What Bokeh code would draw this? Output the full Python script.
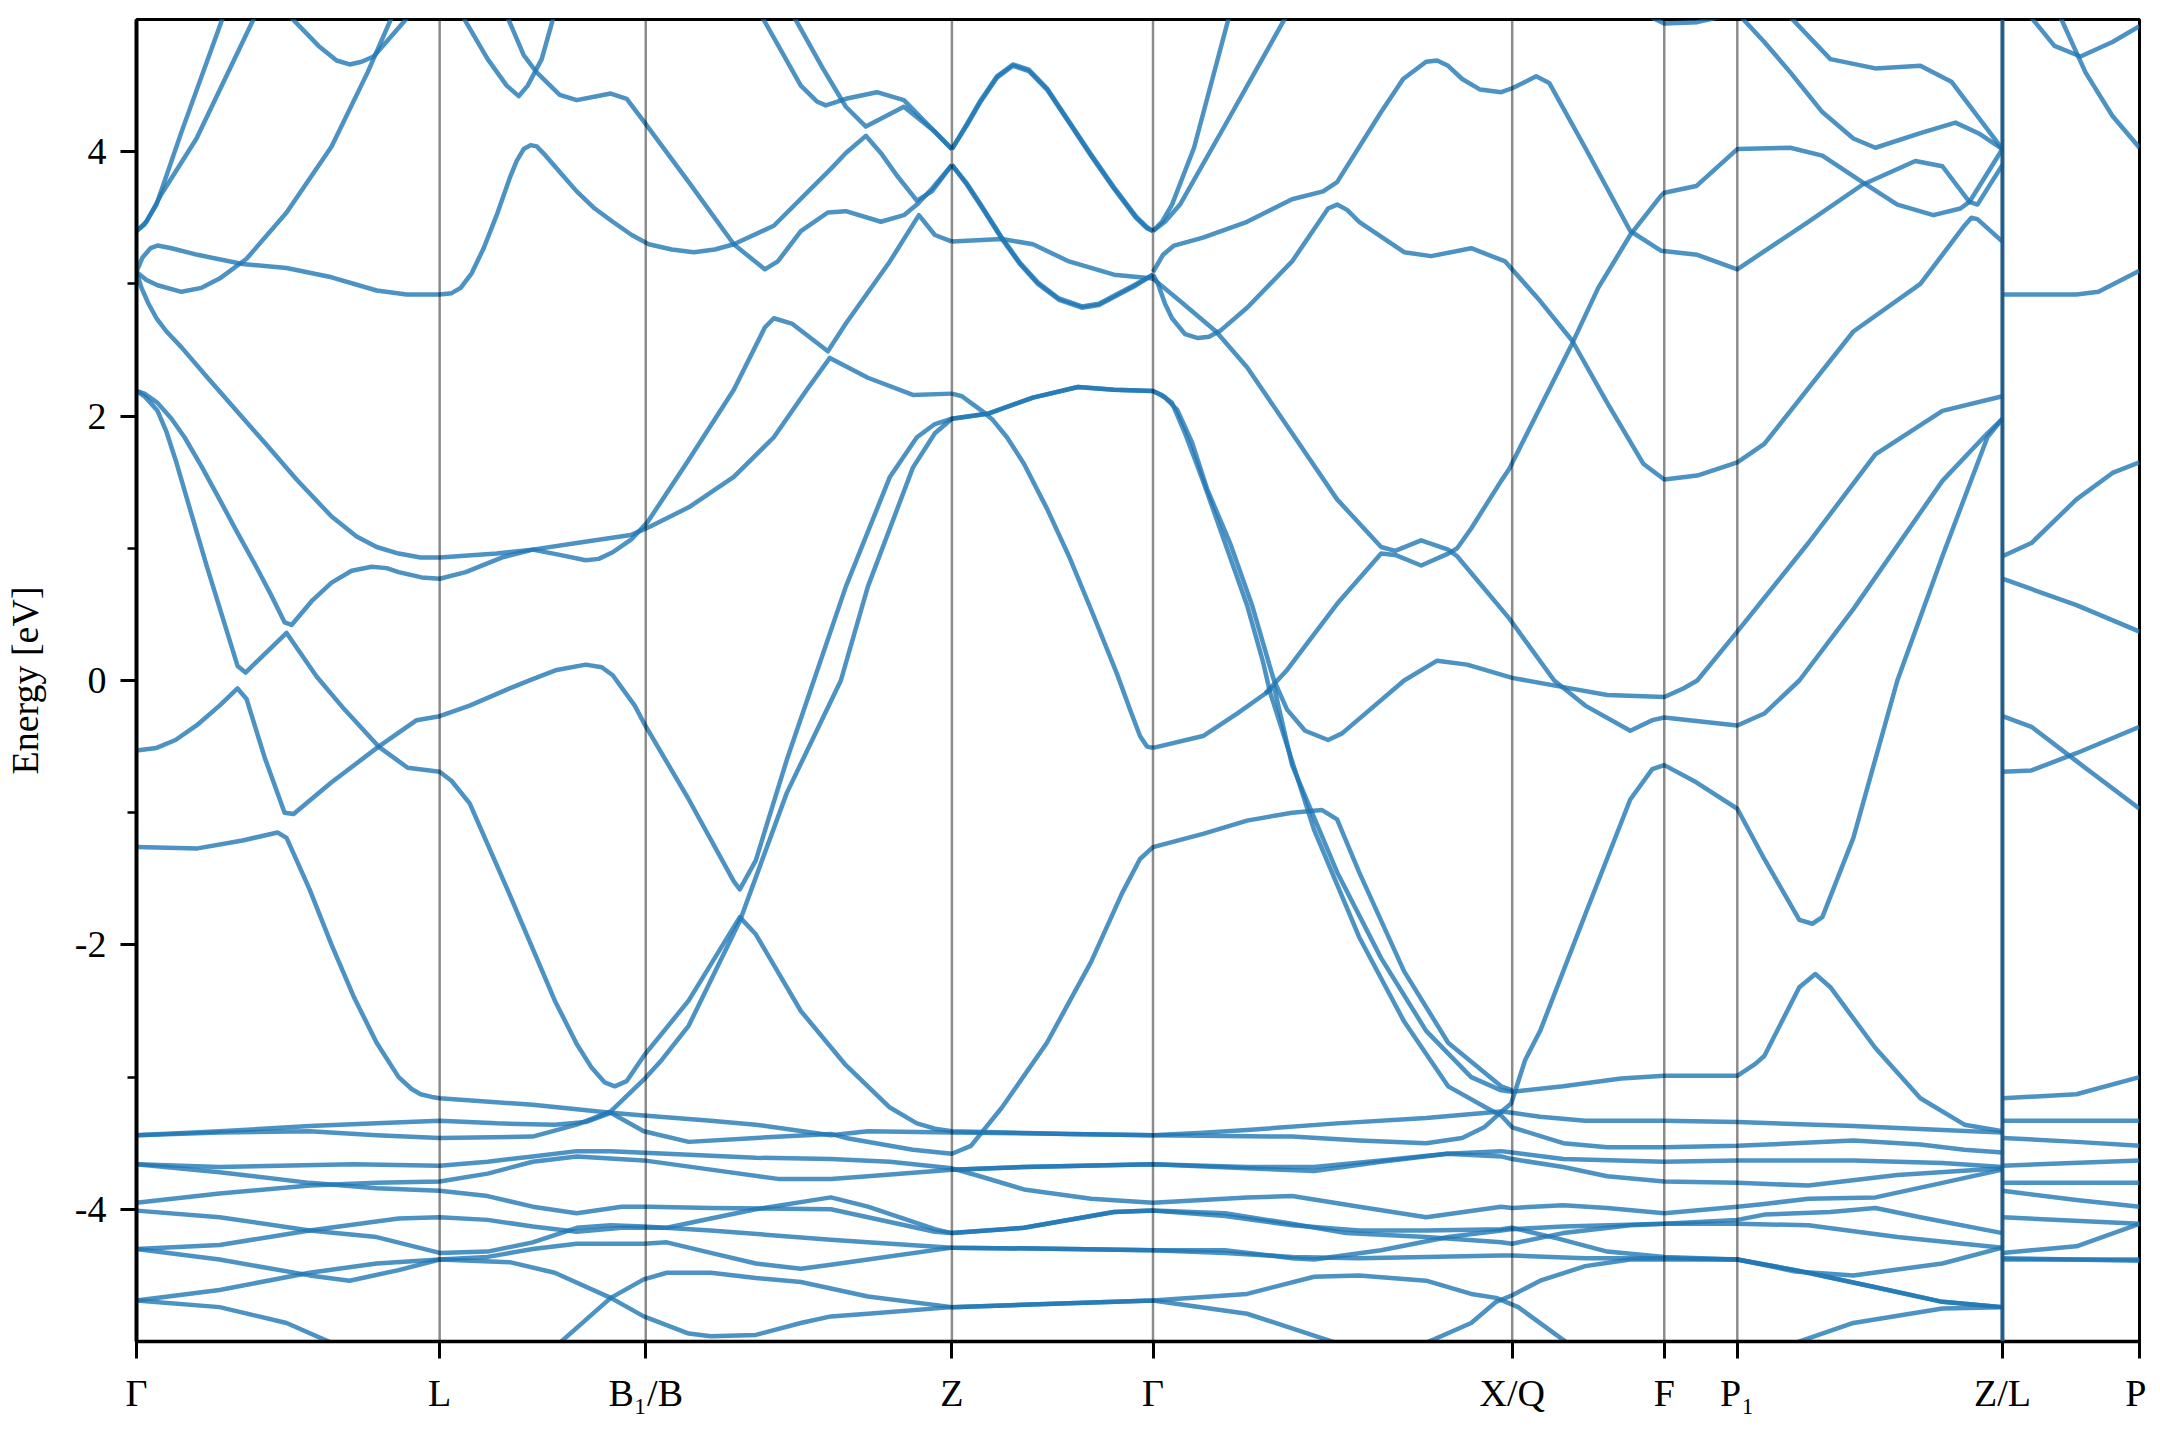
from bokeh.plotting import figure
from bokeh.models import Range1d, FixedTicker, Span
from bokeh.embed import file_html
from bokeh.resources import INLINE

# ---- k-path (high-symmetry points) ----
kpt_pos = [0.0, 3.03, 5.09, 8.15, 10.16, 13.75, 15.27, 16.00, 18.65, 20.02]
kpt_lab = ["Γ", "L", "B₁/B", "Z", "Γ", "X/Q", "F", "P₁", "Z/L", "P"]

# ---- bands: [k, E(eV)] ----
band_01 = [[0, 3.40], [0.08, 3.45], [0.20, 3.60], [0.45, 4.15], [0.88, 5.05]]
band_02 = [[0, 3.40], [0.10, 3.47], [0.25, 3.68], [0.60, 4.10], [1.20, 5.05]]
band_03 = [[1.50, 5.05], [1.82, 4.80], [2.00, 4.69], [2.13, 4.66], [2.25, 4.68], [2.37, 4.72], [2.75, 5.05]]
band_04 = [[0, 3.09], [0.10, 3.03], [0.21, 2.99], [0.45, 2.94], [0.65, 2.97], [0.83, 3.04], [1.10, 3.19], [1.50, 3.54],
           [1.95, 4.04], [2.31, 4.60], [2.57, 5.05]]
band_05 = [[0, 3.09], [0.06, 3.20], [0.14, 3.27], [0.21, 3.29], [0.35, 3.27], [0.61, 3.22], [1.06, 3.15], [1.50, 3.12],
           [1.95, 3.05], [2.40, 2.95], [2.70, 2.92], [3.03, 2.92], [3.15, 2.93], [3.24, 2.97], [3.35, 3.08], [3.47, 3.27],
           [3.60, 3.52], [3.73, 3.80], [3.80, 3.93], [3.87, 4.02], [3.94, 4.05], [4.00, 4.04], [4.09, 3.97], [4.25, 3.83],
           [4.40, 3.70], [4.58, 3.57], [4.76, 3.47], [4.95, 3.37], [5.12, 3.30], [5.35, 3.26], [5.57, 3.24], [5.78, 3.26],
           [5.97, 3.30], [6.37, 3.44], [6.94, 3.87], [7.09, 3.99], [7.29, 4.12], [7.45, 3.98], [7.60, 3.82], [7.80, 3.63],
           [7.95, 3.70], [8.15, 3.90]]
band_06 = [[0, 3.09], [0.05, 2.97], [0.12, 2.85], [0.20, 2.74], [0.30, 2.64], [0.45, 2.52], [0.70, 2.30], [1.00, 2.04],
           [1.28, 1.80], [1.60, 1.52], [1.95, 1.24], [2.20, 1.09], [2.40, 1.01], [2.62, 0.96], [2.84, 0.93], [3.03, 0.93],
           [3.60, 0.96], [3.96, 0.99], [4.40, 1.04], [4.94, 1.10], [5.12, 1.16], [5.52, 1.31], [5.97, 1.54], [6.37, 1.84],
           [6.70, 2.20], [6.93, 2.44], [7.31, 2.29], [7.76, 2.16], [8.15, 2.17]]
band_07 = [[0, 2.19], [0.08, 2.17], [0.21, 2.10], [0.35, 1.98], [0.48, 1.84], [0.65, 1.62], [0.83, 1.37], [1.00, 1.13],
           [1.19, 0.87], [1.35, 0.64], [1.48, 0.44], [1.55, 0.42], [1.75, 0.60], [1.95, 0.74], [2.15, 0.83], [2.35, 0.86],
           [2.50, 0.85], [2.62, 0.82], [2.85, 0.78], [3.03, 0.77], [3.29, 0.82], [3.65, 0.93], [3.96, 0.99], [4.23, 0.95],
           [4.49, 0.91], [4.62, 0.92], [4.76, 0.97], [4.95, 1.07], [5.11, 1.20], [5.52, 1.67], [5.97, 2.20], [6.28, 2.67],
           [6.37, 2.74], [6.55, 2.70], [6.91, 2.49], [7.09, 2.70], [7.53, 3.17], [7.82, 3.52], [7.98, 3.37], [8.15, 3.32]]
band_08 = [[0, 2.19], [0.08, 2.15], [0.21, 2.04], [0.30, 1.88], [0.39, 1.67], [0.70, 0.87], [1.01, 0.11], [1.09, 0.06],
           [1.50, 0.36], [1.80, 0.03], [2.08, -0.22], [2.42, -0.50], [2.71, -0.66], [3.03, -0.69], [3.15, -0.76],
           [3.33, -0.93], [3.73, -1.62], [4.18, -2.42], [4.40, -2.75], [4.55, -2.93], [4.68, -3.04], [4.78, -3.07],
           [4.90, -3.03], [5.07, -2.84], [5.52, -2.42], [6.03, -1.79], [6.19, -1.92], [6.64, -2.50], [7.09, -2.91],
           [7.53, -3.23], [7.80, -3.35], [7.98, -3.39], [8.15, -3.41], [9.32, -3.43], [10.16, -3.44], [10.66, -3.42],
           [11.10, -3.40], [12.00, -3.35], [12.89, -3.31], [13.64, -3.26], [13.75, -3.27], [14.03, -3.30], [14.48, -3.33],
           [15.27, -3.33], [16.00, -3.34], [17.16, -3.37], [18.05, -3.40], [18.65, -3.42]]
band_09 = [[0, -0.53], [0.20, -0.51], [0.39, -0.45], [0.60, -0.34], [0.83, -0.19], [1.01, -0.06], [1.10, -0.14],
           [1.28, -0.58], [1.48, -1.00], [1.57, -1.01], [1.95, -0.77], [2.42, -0.50], [2.80, -0.30], [3.03, -0.27],
           [3.33, -0.19], [3.73, -0.06], [3.96, 0.01], [4.20, 0.08], [4.49, 0.12], [4.65, 0.10], [4.76, 0.04], [4.98, -0.19],
           [5.07, -0.32], [5.52, -0.90], [5.97, -1.52], [6.03, -1.58], [6.19, -1.36], [6.50, -0.60], [6.77, 0.00],
           [7.09, 0.71], [7.53, 1.54], [7.80, 1.84], [7.98, 1.94], [8.15, 1.98], [8.52, 2.02], [8.96, 2.14], [9.41, 2.22],
           [9.77, 2.20], [10.16, 2.19], [10.25, 2.16], [10.35, 2.10], [10.48, 1.87], [10.66, 1.51], [10.88, 1.04],
           [11.10, 0.57], [11.26, 0.14], [11.33, -0.09], [11.77, -1.13], [12.22, -1.94], [12.67, -2.58], [13.11, -3.07],
           [13.51, -3.24], [13.64, -3.29], [13.75, -3.38], [14.26, -3.50], [14.70, -3.53], [15.27, -3.53], [16.00, -3.52],
           [17.16, -3.48], [17.83, -3.51], [18.27, -3.55], [18.65, -3.57]]
band_10 = [[0, -1.26], [0.61, -1.27], [1.06, -1.21], [1.41, -1.15], [1.50, -1.19], [1.73, -1.58], [1.95, -2.00],
           [2.17, -2.39], [2.40, -2.74], [2.62, -3.00], [2.75, -3.09], [2.84, -3.13], [2.95, -3.15], [3.03, -3.16],
           [3.96, -3.21], [4.74, -3.27], [5.07, -3.29], [5.74, -3.33], [6.19, -3.36], [6.94, -3.44], [7.31, -3.41],
           [8.15, -3.42], [9.32, -3.43], [10.16, -3.44], [11.55, -3.45], [12.22, -3.48], [12.89, -3.50], [13.25, -3.46],
           [13.47, -3.38], [13.63, -3.27], [13.74, -3.20], [13.88, -2.87], [14.03, -2.65], [14.48, -1.77], [14.93, -0.90],
           [15.15, -0.67], [15.27, -0.64], [15.59, -0.77], [16.00, -0.97], [16.27, -1.35], [16.62, -1.81], [16.75, -1.84],
           [16.85, -1.79], [17.16, -1.19], [17.60, 0.00], [18.05, 0.94], [18.50, 1.84], [18.65, 1.98]]
band_11 = [[0, -3.44], [0.83, -3.41], [1.73, -3.37], [2.40, -3.35], [3.03, -3.33], [3.60, -3.35], [4.18, -3.36],
           [4.49, -3.34], [4.74, -3.27], [5.07, -3.41], [5.52, -3.49], [6.19, -3.46], [6.94, -3.43], [7.09, -3.46],
           [7.76, -3.55], [8.15, -3.58], [8.34, -3.52], [8.65, -3.23], [9.10, -2.74], [9.54, -2.13], [9.85, -1.61],
           [10.03, -1.35], [10.16, -1.26], [10.66, -1.16], [11.10, -1.06], [11.55, -1.00], [11.85, -0.98], [12.00, -1.05],
           [12.22, -1.45], [12.67, -2.20], [13.11, -2.74], [13.64, -3.07], [13.75, -3.10]]
band_12 = [[0, -3.44], [0.83, -3.42], [1.73, -3.41], [2.40, -3.44], [3.03, -3.46], [3.96, -3.45], [4.40, -3.36],
           [4.74, -3.26], [5.07, -3.02], [5.25, -2.87], [5.52, -2.61], [6.03, -1.82], [6.50, -0.85], [7.04, 0.00],
           [7.31, 0.71], [7.76, 1.61], [7.98, 1.87], [8.15, 1.98], [8.52, 2.02], [8.96, 2.14], [9.41, 2.22], [9.77, 2.20],
           [10.16, 2.19], [10.28, 2.14], [10.40, 2.05], [10.55, 1.80], [10.70, 1.45], [10.93, 1.04], [11.15, 0.57],
           [11.33, 0.10], [11.37, 0.00], [11.50, -0.22], [11.68, -0.38], [11.91, -0.45], [12.05, -0.40], [12.22, -0.29],
           [12.67, 0.00], [13.00, 0.15], [13.30, 0.12], [13.75, 0.02], [14.26, -0.05], [14.70, -0.11], [15.27, -0.125],
           [15.46, -0.06], [15.60, 0.00], [16.00, 0.37], [16.71, 1.04], [17.38, 1.71], [18.05, 2.04], [18.65, 2.15]]
band_13 = [[0, -3.66], [0.83, -3.68], [2.17, -3.66], [3.03, -3.67], [3.51, -3.64], [3.96, -3.60], [4.40, -3.56],
           [4.74, -3.56], [5.30, -3.58], [6.19, -3.61], [6.94, -3.62], [7.53, -3.64], [8.15, -3.69], [8.43, -3.75],
           [8.87, -3.85], [9.54, -3.92], [10.16, -3.95], [11.10, -3.91], [11.55, -3.90], [12.22, -3.98], [12.89, -4.06],
           [13.64, -3.98], [13.75, -3.99], [14.26, -3.97], [14.70, -3.99], [15.27, -4.03], [16.00, -3.98], [16.27, -3.96],
           [16.71, -3.92], [17.38, -3.91], [18.05, -3.80], [18.65, -3.70]]
band_14 = [[0, -3.66], [0.83, -3.72], [1.73, -3.80], [2.40, -3.84], [3.03, -3.86], [3.51, -3.90], [3.96, -3.98],
           [4.40, -4.03], [4.85, -3.98], [5.12, -3.98], [5.74, -3.99], [6.94, -4.00], [7.31, -4.06], [7.98, -4.17],
           [8.15, -4.18], [8.87, -4.14], [9.77, -4.02], [10.16, -4.01], [10.88, -4.03], [11.55, -4.11], [12.09, -4.18],
           [12.89, -4.21], [13.64, -4.25], [13.75, -4.26], [14.26, -4.18], [14.93, -4.12], [15.27, -4.11], [16.00, -4.11],
           [16.71, -4.12], [17.60, -4.21], [18.65, -4.29]]
band_15 = [[0, -3.95], [0.83, -3.88], [1.73, -3.82], [2.40, -3.80], [3.03, -3.79], [3.51, -3.73], [3.96, -3.64],
           [4.40, -3.60], [5.07, -3.63], [5.74, -3.70], [6.41, -3.77], [6.94, -3.77], [7.31, -3.75], [8.15, -3.70],
           [8.87, -3.68], [10.16, -3.66], [11.10, -3.69], [11.77, -3.71], [12.44, -3.64], [13.10, -3.58], [13.64, -3.60],
           [13.75, -3.62], [14.26, -3.68], [14.70, -3.75], [15.27, -3.79], [16.00, -3.80], [16.71, -3.82], [17.60, -3.74],
           [18.65, -3.69]]
band_16 = [[0, -4.01], [0.83, -4.06], [1.73, -4.16], [2.40, -4.21], [3.03, -4.33], [3.51, -4.32], [3.96, -4.25],
           [4.40, -4.14], [4.74, -4.12], [5.07, -4.13], [5.74, -4.16], [6.94, -4.23], [7.31, -4.25], [8.15, -4.29],
           [9.32, -4.30], [10.16, -4.31], [10.88, -4.31], [11.55, -4.37], [11.77, -4.38], [12.44, -4.31], [13.11, -4.21],
           [13.64, -4.16], [13.75, -4.15], [14.26, -4.13], [15.27, -4.11], [16.00, -4.08], [16.27, -4.04], [16.93, -4.02],
           [17.38, -3.99], [17.83, -4.06], [18.65, -4.18]]
band_17 = [[0, -4.30], [0.83, -4.27], [1.73, -4.16], [2.62, -4.07], [3.03, -4.06], [3.51, -4.08], [3.96, -4.13],
           [4.40, -4.17], [4.85, -4.14], [5.30, -4.14], [5.74, -4.07], [6.19, -4.00], [6.94, -3.91], [7.31, -3.98],
           [7.98, -4.15], [8.15, -4.18], [8.87, -4.14], [9.77, -4.02], [10.16, -4.01], [10.88, -4.05], [11.55, -4.12],
           [12.22, -4.16], [12.89, -4.16], [13.64, -4.15], [13.75, -4.14], [14.20, -4.22], [14.70, -4.32], [15.27, -4.36],
           [16.00, -4.38], [16.58, -4.47], [17.16, -4.50], [18.05, -4.41], [18.65, -4.29]]
band_18 = [[0, -4.30], [0.83, -4.38], [1.73, -4.50], [2.13, -4.54], [2.62, -4.46], [3.03, -4.38], [3.51, -4.36],
           [3.96, -4.30], [4.40, -4.26], [5.07, -4.26], [5.30, -4.25], [5.74, -4.33], [6.19, -4.41], [6.64, -4.45],
           [6.94, -4.42], [7.31, -4.38], [8.15, -4.29], [9.32, -4.30], [10.16, -4.31], [10.88, -4.33], [11.55, -4.36],
           [12.22, -4.37], [12.89, -4.36], [13.64, -4.35], [13.75, -4.35], [14.48, -4.37], [15.27, -4.37], [16.00, -4.38],
           [16.58, -4.46], [17.38, -4.59], [18.05, -4.70], [18.65, -4.74]]
band_19 = [[0, -4.69], [0.83, -4.61], [1.73, -4.48], [2.40, -4.41], [3.03, -4.38], [3.73, -4.40], [4.18, -4.48],
           [4.74, -4.67], [5.07, -4.81], [5.52, -4.94], [5.74, -4.96], [6.19, -4.95], [6.64, -4.86], [6.94, -4.81],
           [7.31, -4.79], [8.15, -4.74], [9.32, -4.71], [10.16, -4.69], [11.10, -4.64], [11.77, -4.51], [12.22, -4.50],
           [12.89, -4.54], [13.34, -4.64], [13.59, -4.67], [13.81, -4.74], [14.30, -5.01], [14.50, -5.10]]
band_20 = [[0, -4.69], [0.83, -4.74], [1.50, -4.86], [1.95, -5.01], [2.20, -5.10]]
band_21 = [[4.00, -5.10], [4.23, -5.01], [4.74, -4.67], [5.07, -4.53], [5.30, -4.48], [5.74, -4.48], [6.19, -4.52],
           [6.64, -4.55], [7.31, -4.66], [8.15, -4.74], [9.32, -4.71], [10.16, -4.69], [11.10, -4.79], [11.99, -5.01],
           [12.20, -5.10]]
band_22 = [[12.70, -5.10], [12.89, -5.01], [13.34, -4.86], [13.59, -4.70], [13.75, -4.65], [14.03, -4.54], [14.48, -4.43],
           [14.93, -4.38], [15.27, -4.38], [16.00, -4.38], [16.58, -4.46], [17.38, -4.59], [18.05, -4.70], [18.65, -4.74]]
band_23 = [[8.15, -3.70], [8.87, -3.68], [10.16, -3.66], [11.10, -3.68], [11.77, -3.68], [12.44, -3.63], [13.10, -3.58],
           [13.64, -3.56], [13.75, -3.57], [14.26, -3.62], [15.27, -3.64], [16.00, -3.63], [17.16, -3.63], [18.05, -3.65],
           [18.65, -3.68]]
band_24 = [[16.40, -5.10], [16.58, -5.01], [17.16, -4.86], [18.05, -4.75], [18.65, -4.74]]
band_25 = [[10.16, 3.40], [10.25, 3.47], [10.35, 3.60], [10.57, 4.03], [10.93, 5.05]]
band_26 = [[10.16, 3.40], [10.28, 3.47], [10.43, 3.60], [10.88, 4.20], [11.51, 5.05]]
band_27 = [[10.16, 3.09], [10.26, 3.22], [10.37, 3.29], [10.66, 3.35], [11.10, 3.47], [11.55, 3.64], [11.86, 3.70],
           [12.00, 3.77], [12.44, 4.30], [12.66, 4.55], [12.89, 4.68], [13.00, 4.69], [13.11, 4.65], [13.25, 4.55],
           [13.43, 4.47], [13.64, 4.45], [13.75, 4.48], [13.99, 4.57], [14.12, 4.52], [14.48, 4.03], [14.93, 3.40],
           [15.24, 3.25], [15.60, 3.22], [16.00, 3.11], [16.71, 3.47], [17.25, 3.75], [17.78, 3.93], [18.05, 3.89],
           [18.32, 3.62], [18.40, 3.60], [18.65, 3.90]]
band_28 = [[10.16, 3.07], [10.21, 3.00], [10.28, 2.85], [10.35, 2.74], [10.48, 2.62], [10.61, 2.59], [10.72, 2.60],
           [10.84, 2.65], [11.10, 2.82], [11.55, 3.17], [11.91, 3.57], [12.00, 3.60], [12.10, 3.56], [12.22, 3.47],
           [12.67, 3.24], [12.94, 3.21], [13.34, 3.27], [13.68, 3.17], [14.03, 2.87], [14.35, 2.57], [14.70, 2.10],
           [15.06, 1.64], [15.27, 1.52], [15.60, 1.55], [16.00, 1.65], [16.27, 1.79], [17.16, 2.64], [17.83, 3.00],
           [18.27, 3.44], [18.34, 3.50], [18.40, 3.49], [18.65, 3.32]]
band_29 = [[10.16, 3.04], [10.43, 2.87], [10.79, 2.64], [11.10, 2.37], [11.55, 1.87], [12.00, 1.37], [12.44, 1.01],
           [12.58, 0.98], [12.84, 1.06], [13.11, 0.99], [13.20, 0.94], [13.72, 0.47], [14.17, 0.00], [14.48, -0.19],
           [14.93, -0.38], [15.15, -0.30], [15.27, -0.28], [16.00, -0.34], [16.27, -0.25], [16.62, 0.00], [17.16, 0.54],
           [18.05, 1.51], [18.50, 1.87], [18.65, 1.98]]
band_30 = [[10.16, -0.51], [10.66, -0.42], [11.00, -0.25], [11.28, -0.10], [11.50, 0.08], [12.00, 0.58], [12.44, 0.96],
           [12.58, 0.95], [12.84, 0.87], [13.11, 0.96], [13.20, 1.00], [13.34, 1.15], [13.64, 1.51], [13.72, 1.60],
           [14.35, 2.55], [14.61, 2.97], [14.93, 3.37], [15.24, 3.67], [15.27, 3.69], [15.59, 3.74], [16.00, 4.02],
           [16.53, 4.03], [16.85, 3.97], [17.25, 3.77], [17.60, 3.60], [17.96, 3.52], [18.23, 3.57], [18.32, 3.62],
           [18.65, 4.02]]
band_31 = [[11.28, -0.10], [11.37, -0.05], [11.55, -0.64], [12.00, -1.45], [12.44, -2.10], [12.89, -2.65], [13.34, -3.00],
           [13.64, -3.10], [13.75, -3.11], [14.26, -3.07], [14.84, -3.01], [15.27, -2.99], [16.00, -2.99], [16.18, -2.90],
           [16.27, -2.84], [16.62, -2.32], [16.78, -2.22], [16.93, -2.32], [17.38, -2.78], [17.83, -3.16], [18.27, -3.36],
           [18.65, -3.41]]
band_32 = [[8.15, 4.02], [8.30, 4.20], [8.43, 4.37], [8.60, 4.56], [8.76, 4.65], [8.92, 4.61], [9.10, 4.47], [9.32, 4.22],
           [9.54, 3.97], [9.77, 3.72], [9.99, 3.50], [10.10, 3.42], [10.16, 3.40]]
band_33 = [[8.15, 4.02], [8.30, 4.21], [8.43, 4.38], [8.60, 4.57], [8.76, 4.66], [8.92, 4.62], [9.10, 4.48], [9.32, 4.23],
           [9.54, 3.98], [9.77, 3.73], [9.99, 3.51], [10.10, 3.43], [10.16, 3.40]]
band_34 = [[8.15, 3.90], [8.30, 3.75], [8.43, 3.60], [8.65, 3.34], [8.83, 3.15], [9.01, 3.00], [9.22, 2.88], [9.45, 2.82],
           [9.62, 2.84], [9.77, 2.90], [9.97, 2.98], [10.16, 3.07]]
band_35 = [[8.15, 3.90], [8.30, 3.76], [8.43, 3.61], [8.65, 3.35], [8.83, 3.16], [9.01, 3.01], [9.22, 2.89], [9.45, 2.83],
           [9.62, 2.85], [9.77, 2.91], [9.97, 2.99], [10.16, 3.07]]
band_36 = [[8.15, 3.32], [8.40, 3.33], [8.65, 3.34], [8.96, 3.30], [9.32, 3.17], [9.77, 3.07], [10.16, 3.04]]
band_37 = [[8.15, 2.17], [8.25, 2.15], [8.34, 2.10], [8.45, 2.04], [8.56, 1.97], [8.70, 1.84], [8.87, 1.64], [9.10, 1.30],
           [9.32, 0.94], [9.55, 0.52], [9.80, 0.05], [9.93, -0.22], [10.03, -0.42], [10.10, -0.50], [10.16, -0.51]]
band_38 = [[6.23, 5.05], [6.64, 4.50], [6.80, 4.38], [6.89, 4.35], [7.09, 4.40], [7.40, 4.45], [7.67, 4.39], [7.89, 4.22],
           [8.15, 4.02]]
band_39 = [[6.55, 5.05], [6.86, 4.63], [7.09, 4.34], [7.29, 4.19], [7.67, 4.34], [7.98, 4.15], [8.15, 4.02]]
band_40 = [[3.24, 5.05], [3.51, 4.70], [3.70, 4.50], [3.82, 4.42], [3.91, 4.50], [4.05, 4.70], [4.18, 5.05]]
band_41 = [[3.69, 5.05], [3.87, 4.73], [4.00, 4.60], [4.23, 4.43], [4.40, 4.39], [4.60, 4.42], [4.74, 4.44], [4.90, 4.40],
           [5.07, 4.23], [5.52, 3.77], [5.97, 3.30], [6.28, 3.11], [6.41, 3.17], [6.64, 3.40], [6.91, 3.54], [7.09, 3.55],
           [7.44, 3.47], [7.67, 3.52], [7.80, 3.60], [7.95, 3.72], [8.15, 3.90]]
band_42 = [[18.65, 2.92], [19.39, 2.92], [19.61, 2.94], [20.02, 3.10]]
band_43 = [[18.90, 5.05], [19.17, 4.80], [19.43, 4.72], [19.75, 4.83], [20.02, 4.95]]
band_44 = [[19.21, 5.05], [19.48, 4.60], [19.75, 4.27], [20.02, 4.03]]
band_45 = [[18.65, 0.94], [18.94, 1.04], [19.39, 1.37], [19.75, 1.57], [20.02, 1.65]]
band_46 = [[18.65, 0.77], [19.39, 0.57], [20.02, 0.37]]
band_47 = [[18.65, -0.27], [18.94, -0.35], [19.39, -0.61], [20.02, -0.97]]
band_48 = [[18.65, -0.69], [18.94, -0.68], [19.39, -0.55], [20.02, -0.35]]
band_49 = [[18.65, -3.16], [19.39, -3.13], [20.02, -3.00]]
band_50 = [[18.65, -3.33], [20.02, -3.33]]
band_51 = [[18.65, -3.46], [19.39, -3.49], [20.02, -3.52]]
band_52 = [[18.65, -3.67], [20.02, -3.63]]
band_53 = [[18.65, -3.80], [20.02, -3.80]]
band_54 = [[18.65, -3.86], [19.39, -3.93], [20.02, -3.98]]
band_55 = [[18.65, -4.06], [20.02, -4.11]]
band_56 = [[18.65, -4.33], [19.39, -4.28], [20.02, -4.11]]
band_57 = [[18.65, -4.38], [20.02, -4.38]]
band_58 = [[18.65, -4.37], [20.02, -4.39]]
band_59 = [[15.05, 5.05], [15.27, 4.97], [15.60, 4.98], [16.00, 5.05]]
band_60 = [[16.00, 5.05], [16.27, 4.83], [16.53, 4.60], [16.85, 4.30], [17.16, 4.10], [17.38, 4.03], [17.83, 4.14],
           [18.18, 4.22], [18.41, 4.14], [18.65, 4.02]]
band_61 = [[16.49, 5.05], [16.93, 4.70], [17.38, 4.63], [17.83, 4.65], [18.14, 4.53], [18.65, 4.02]]

bands = [band_01, band_02, band_03, band_04, band_05, band_06, band_07, band_08, band_09, band_10,
         band_11, band_12, band_13, band_14, band_15, band_16, band_17, band_18, band_19, band_20,
         band_21, band_22, band_23, band_24, band_25, band_26, band_27, band_28, band_29, band_30,
         band_31, band_32, band_33, band_34, band_35, band_36, band_37, band_38, band_39, band_40,
         band_41, band_42, band_43, band_44, band_45, band_46, band_47, band_48, band_49, band_50,
         band_51, band_52, band_53, band_54, band_55, band_56, band_57, band_58, band_59, band_60, band_61]

y_major = [-4, -2, 0, 2, 4]
y_minor = [-3, -1, 1, 3]

FONT = "Liberation Serif"

p = figure(width=2144, height=1424, output_backend="svg", toolbar_location=None,
           x_range=Range1d(0, kpt_pos[-1]), y_range=Range1d(-5, 5),
           min_border_left=134, min_border_right=7, min_border_top=19, min_border_bottom=70)
p.frame_width = 2003
p.frame_height = 1322
p.background_fill_color = "white"
p.border_fill_color = "white"
p.grid.visible = False
p.outline_line_color = "black"
p.outline_line_width = 3
p.outline_line_alpha = 1.0

# high-symmetry vertical lines
for kk in kpt_pos[1:-1]:
    p.add_layout(Span(location=kk, dimension="height", line_color="black", line_alpha=0.45, line_width=2.5))

# bands
p.multi_line(xs=[[pt[0] for pt in b] for b in bands], ys=[[pt[1] for pt in b] for b in bands],
             line_color="#1f77b4", line_alpha=0.8, line_width=4.5, line_join="round")

# Z|L discontinuity (band jumps drawn vertically)
p.add_layout(Span(location=kpt_pos[8], dimension="height", line_color="#1b5a8a", line_alpha=0.95, line_width=4))

# axes
xa = p.xaxis[0]
xa.ticker = FixedTicker(ticks=kpt_pos)
xa.major_label_overrides = {k: lab for k, lab in zip(kpt_pos, kpt_lab)}
xa.major_label_text_font = FONT
xa.major_label_text_font_size = "38px"
xa.major_label_text_color = "black"
xa.major_label_standoff = 13
xa.major_tick_out = 17
xa.major_tick_in = 0
xa.major_tick_line_width = 3
xa.minor_tick_line_color = None
xa.axis_line_width = 3.5

ya = p.yaxis[0]
ya.ticker = FixedTicker(ticks=y_major, minor_ticks=y_minor)
ya.major_label_overrides = {v: str(v) for v in y_major}
ya.major_label_text_font = FONT
ya.major_label_text_font_size = "38px"
ya.major_label_text_color = "black"
ya.major_label_standoff = 14
ya.major_tick_out = 16
ya.major_tick_in = 0
ya.major_tick_line_width = 3
ya.minor_tick_out = 9
ya.minor_tick_in = 0
ya.minor_tick_line_width = 2.5
ya.axis_line_width = 4
ya.axis_label = "Energy [eV]"
ya.axis_label_text_font = FONT
ya.axis_label_text_font_size = "38px"
ya.axis_label_text_font_style = "normal"
ya.axis_label_text_color = "black"
ya.axis_label_standoff = 26

open("out.html", "w").write(file_html(p, INLINE))
